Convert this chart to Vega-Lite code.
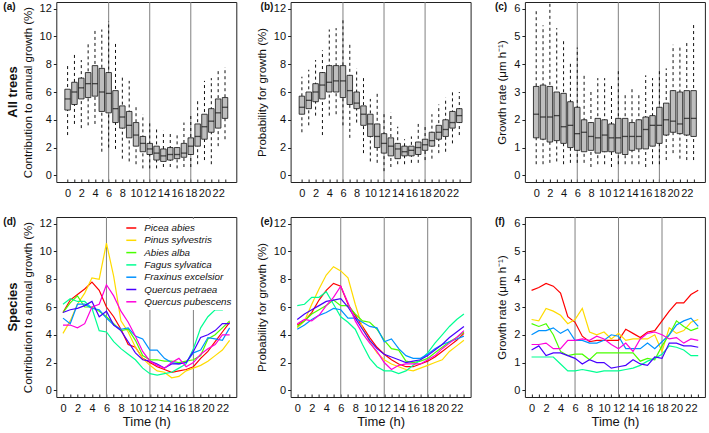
{
  "$schema": "https://vega.github.io/schema/vega-lite/v6.json",
  "padding": {"left": 1, "top": 1, "right": 2, "bottom": 0},
  "config": {
    "font": "Liberation Sans",
    "view": {"stroke": "#222", "strokeWidth": 1},
    "axis": {"grid": false, "domain": false, "labelFontSize": 11, "titleFontSize": 11.5, "titleFontWeight": "normal", "labelColor": "#111", "titleColor": "#111", "tickColor": "#222", "labelFont": "Liberation Sans", "titleFont": "Liberation Sans", "labelFlush": false, "labelOverlap": false},
    "axisX": {"tickSize": -3, "labelPadding": 8, "labelAngle": 0, "titleFontSize": 13, "titlePadding": 2},
    "axisY": {"tickSize": 3, "labelPadding": 2, "titlePadding": 6},
    "title": {"fontSize": 10, "fontWeight": "bold", "anchor": "start", "frame": "group", "offset": -10, "color": "#111", "font": "Liberation Sans"}
  },
  "datasets": {
    "box": [
      {"m":"a","h":0,"lo":2.9,"q1":4.7,"med":5.5,"q3":6.2,"hi":8.0},
      {"m":"a","h":1,"lo":3.7,"q1":5.1,"med":6.0,"q3":6.7,"hi":8.8},
      {"m":"a","h":2,"lo":3.4,"q1":5.5,"med":6.3,"q3":7.0,"hi":8.3},
      {"m":"a","h":3,"lo":3.6,"q1":5.6,"med":6.6,"q3":7.4,"hi":9.6},
      {"m":"a","h":4,"lo":3.7,"q1":5.7,"med":6.6,"q3":7.9,"hi":10.4},
      {"m":"a","h":5,"lo":1.7,"q1":4.6,"med":6.0,"q3":7.7,"hi":10.5},
      {"m":"a","h":6,"lo":2.0,"q1":4.5,"med":5.9,"q3":7.4,"hi":11.1},
      {"m":"a","h":7,"lo":1.9,"q1":3.8,"med":4.8,"q3":6.1,"hi":9.6},
      {"m":"a","h":8,"lo":1.2,"q1":3.4,"med":4.2,"q3":5.0,"hi":7.2},
      {"m":"a","h":9,"lo":1.0,"q1":2.7,"med":3.6,"q3":4.6,"hi":6.8},
      {"m":"a","h":10,"lo":0.8,"q1":2.1,"med":2.9,"q3":3.8,"hi":5.1},
      {"m":"a","h":11,"lo":0.5,"q1":1.7,"med":2.3,"q3":2.8,"hi":4.4},
      {"m":"a","h":12,"lo":0.5,"q1":1.5,"med":1.9,"q3":2.3,"hi":3.9},
      {"m":"a","h":13,"lo":0.5,"q1":1.1,"med":1.6,"q3":2.1,"hi":3.3},
      {"m":"a","h":14,"lo":0.6,"q1":1.0,"med":1.4,"q3":1.9,"hi":3.2},
      {"m":"a","h":15,"lo":0.6,"q1":1.1,"med":1.5,"q3":2.0,"hi":3.0},
      {"m":"a","h":16,"lo":0.5,"q1":1.2,"med":1.5,"q3":2.0,"hi":3.0},
      {"m":"a","h":17,"lo":0.6,"q1":1.3,"med":1.6,"q3":2.3,"hi":3.8},
      {"m":"a","h":18,"lo":0.6,"q1":1.5,"med":2.1,"q3":2.7,"hi":4.4},
      {"m":"a","h":19,"lo":0.8,"q1":2.1,"med":2.8,"q3":3.7,"hi":5.4},
      {"m":"a","h":20,"lo":1.1,"q1":2.6,"med":3.5,"q3":4.4,"hi":6.8},
      {"m":"a","h":21,"lo":0.8,"q1":3.1,"med":3.9,"q3":4.8,"hi":7.0},
      {"m":"a","h":22,"lo":2.1,"q1":3.4,"med":4.5,"q3":5.5,"hi":7.6},
      {"m":"a","h":23,"lo":2.6,"q1":4.1,"med":4.9,"q3":5.6,"hi":7.8},
      {"m":"b","h":0,"lo":3.1,"q1":4.4,"med":4.9,"q3":5.7,"hi":7.1},
      {"m":"b","h":1,"lo":3.6,"q1":4.8,"med":5.4,"q3":6.0,"hi":7.6},
      {"m":"b","h":2,"lo":4.3,"q1":5.3,"med":6.0,"q3":6.6,"hi":8.3},
      {"m":"b","h":3,"lo":2.9,"q1":5.5,"med":6.5,"q3":7.4,"hi":9.0},
      {"m":"b","h":4,"lo":4.3,"q1":6.0,"med":6.7,"q3":7.9,"hi":10.5},
      {"m":"b","h":5,"lo":4.4,"q1":6.0,"med":6.8,"q3":7.9,"hi":10.6},
      {"m":"b","h":6,"lo":3.6,"q1":5.6,"med":6.8,"q3":7.9,"hi":11.2},
      {"m":"b","h":7,"lo":2.7,"q1":5.1,"med":6.1,"q3":7.2,"hi":9.4},
      {"m":"b","h":8,"lo":3.8,"q1":4.8,"med":5.2,"q3":6.0,"hi":7.7},
      {"m":"b","h":9,"lo":1.6,"q1":3.6,"med":4.4,"q3":5.0,"hi":7.0},
      {"m":"b","h":10,"lo":1.0,"q1":2.8,"med":3.7,"q3":4.4,"hi":5.5},
      {"m":"b","h":11,"lo":0.9,"q1":2.0,"med":2.8,"q3":3.7,"hi":6.0},
      {"m":"b","h":12,"lo":0.3,"q1":1.6,"med":2.3,"q3":3.0,"hi":4.4},
      {"m":"b","h":13,"lo":0.6,"q1":1.4,"med":2.1,"q3":2.7,"hi":4.5},
      {"m":"b","h":14,"lo":0.8,"q1":1.2,"med":1.9,"q3":2.3,"hi":3.5},
      {"m":"b","h":15,"lo":0.8,"q1":1.4,"med":1.7,"q3":2.1,"hi":2.6},
      {"m":"b","h":16,"lo":0.9,"q1":1.4,"med":1.8,"q3":2.1,"hi":2.8},
      {"m":"b","h":17,"lo":0.9,"q1":1.5,"med":2.0,"q3":2.4,"hi":3.7},
      {"m":"b","h":18,"lo":1.1,"q1":1.8,"med":2.2,"q3":2.6,"hi":3.6},
      {"m":"b","h":19,"lo":1.2,"q1":2.1,"med":2.5,"q3":3.1,"hi":4.4},
      {"m":"b","h":20,"lo":1.6,"q1":2.6,"med":3.1,"q3":3.6,"hi":5.1},
      {"m":"b","h":21,"lo":1.7,"q1":2.8,"med":3.3,"q3":4.0,"hi":5.6},
      {"m":"b","h":22,"lo":2.3,"q1":3.4,"med":3.8,"q3":4.6,"hi":6.1},
      {"m":"b","h":23,"lo":2.9,"q1":3.8,"med":4.3,"q3":4.8,"hi":6.0},
      {"m":"c","h":0,"lo":0.4,"q1":1.35,"med":2.2,"q3":3.2,"hi":6.0},
      {"m":"c","h":1,"lo":0.4,"q1":1.3,"med":2.1,"q3":3.25,"hi":5.4},
      {"m":"c","h":2,"lo":0.45,"q1":1.2,"med":2.1,"q3":3.2,"hi":6.2},
      {"m":"c","h":3,"lo":0.5,"q1":1.25,"med":2.15,"q3":3.0,"hi":5.3},
      {"m":"c","h":4,"lo":0.4,"q1":1.15,"med":1.75,"q3":2.95,"hi":4.9},
      {"m":"c","h":5,"lo":0.45,"q1":1.0,"med":1.8,"q3":2.65,"hi":4.1},
      {"m":"c","h":6,"lo":0.45,"q1":0.9,"med":1.5,"q3":2.45,"hi":4.6},
      {"m":"c","h":7,"lo":0.45,"q1":0.85,"med":1.55,"q3":2.0,"hi":3.6},
      {"m":"c","h":8,"lo":0.3,"q1":0.9,"med":1.4,"q3":1.9,"hi":3.1},
      {"m":"c","h":9,"lo":0.4,"q1":0.8,"med":1.35,"q3":2.05,"hi":3.5},
      {"m":"c","h":10,"lo":0.4,"q1":0.85,"med":1.45,"q3":2.0,"hi":3.5},
      {"m":"c","h":11,"lo":0.3,"q1":0.85,"med":1.35,"q3":1.85,"hi":3.3},
      {"m":"c","h":12,"lo":0.4,"q1":0.8,"med":1.35,"q3":2.05,"hi":3.75},
      {"m":"c","h":13,"lo":0.4,"q1":0.75,"med":1.4,"q3":2.05,"hi":2.95},
      {"m":"c","h":14,"lo":0.4,"q1":0.9,"med":1.4,"q3":1.9,"hi":3.15},
      {"m":"c","h":15,"lo":0.4,"q1":0.95,"med":1.4,"q3":2.0,"hi":2.95},
      {"m":"c","h":16,"lo":0.3,"q1":0.95,"med":1.65,"q3":2.1,"hi":3.6},
      {"m":"c","h":17,"lo":0.4,"q1":1.05,"med":1.8,"q3":2.15,"hi":3.5},
      {"m":"c","h":18,"lo":0.4,"q1":1.15,"med":1.8,"q3":2.45,"hi":3.8},
      {"m":"c","h":19,"lo":0.55,"q1":1.45,"med":2.0,"q3":2.6,"hi":3.85},
      {"m":"c","h":20,"lo":0.8,"q1":1.55,"med":1.95,"q3":3.05,"hi":4.7},
      {"m":"c","h":21,"lo":0.6,"q1":1.5,"med":1.85,"q3":3.0,"hi":4.7},
      {"m":"c","h":22,"lo":0.55,"q1":1.45,"med":2.05,"q3":3.05,"hi":4.8},
      {"m":"c","h":23,"lo":0.55,"q1":1.4,"med":2.05,"q3":3.05,"hi":5.45}
    ],
    "sp": [
      {"s":"Picea abies","h":0,"c":5.6,"p":4.7,"r":3.6},
      {"s":"Picea abies","h":1,"c":6.5,"p":5.0,"r":3.7},
      {"s":"Picea abies","h":2,"c":6.9,"p":5.6,"r":3.85},
      {"s":"Picea abies","h":3,"c":7.3,"p":6.5,"r":3.75},
      {"s":"Picea abies","h":4,"c":7.8,"p":7.2,"r":3.5},
      {"s":"Picea abies","h":5,"c":7.2,"p":7.7,"r":2.65},
      {"s":"Picea abies","h":6,"c":6.0,"p":7.5,"r":2.45},
      {"s":"Picea abies","h":7,"c":5.3,"p":6.2,"r":1.95},
      {"s":"Picea abies","h":8,"c":4.4,"p":5.4,"r":1.75},
      {"s":"Picea abies","h":9,"c":3.3,"p":4.6,"r":1.8},
      {"s":"Picea abies","h":10,"c":3.1,"p":3.8,"r":1.8},
      {"s":"Picea abies","h":11,"c":2.3,"p":3.1,"r":1.8},
      {"s":"Picea abies","h":12,"c":2.0,"p":2.6,"r":1.8},
      {"s":"Picea abies","h":13,"c":1.7,"p":2.2,"r":2.2},
      {"s":"Picea abies","h":14,"c":1.5,"p":1.9,"r":2.05},
      {"s":"Picea abies","h":15,"c":1.3,"p":1.7,"r":1.9},
      {"s":"Picea abies","h":16,"c":1.4,"p":1.7,"r":2.1},
      {"s":"Picea abies","h":17,"c":1.5,"p":1.9,"r":2.15},
      {"s":"Picea abies","h":18,"c":1.7,"p":2.1,"r":2.5},
      {"s":"Picea abies","h":19,"c":2.3,"p":2.4,"r":2.85},
      {"s":"Picea abies","h":20,"c":2.8,"p":2.8,"r":3.15},
      {"s":"Picea abies","h":21,"c":3.5,"p":3.2,"r":3.15},
      {"s":"Picea abies","h":22,"c":4.2,"p":3.6,"r":3.45},
      {"s":"Picea abies","h":23,"c":4.9,"p":4.1,"r":3.6},
      {"s":"Pinus sylvestris","h":0,"c":4.1,"p":4.5,"r":2.55},
      {"s":"Pinus sylvestris","h":1,"c":5.0,"p":5.0,"r":2.5},
      {"s":"Pinus sylvestris","h":2,"c":6.2,"p":6.2,"r":2.95},
      {"s":"Pinus sylvestris","h":3,"c":7.0,"p":7.3,"r":2.85},
      {"s":"Pinus sylvestris","h":4,"c":8.1,"p":8.3,"r":2.7},
      {"s":"Pinus sylvestris","h":5,"c":8.0,"p":8.9,"r":2.4},
      {"s":"Pinus sylvestris","h":6,"c":10.6,"p":8.6,"r":2.55},
      {"s":"Pinus sylvestris","h":7,"c":8.2,"p":8.1,"r":2.95},
      {"s":"Pinus sylvestris","h":8,"c":5.0,"p":6.2,"r":2.1},
      {"s":"Pinus sylvestris","h":9,"c":4.2,"p":4.5,"r":2.0},
      {"s":"Pinus sylvestris","h":10,"c":3.1,"p":3.5,"r":2.1},
      {"s":"Pinus sylvestris","h":11,"c":2.3,"p":2.7,"r":1.85},
      {"s":"Pinus sylvestris","h":12,"c":1.8,"p":2.2,"r":2.05},
      {"s":"Pinus sylvestris","h":13,"c":1.4,"p":1.9,"r":1.8},
      {"s":"Pinus sylvestris","h":14,"c":1.3,"p":1.7,"r":1.85},
      {"s":"Pinus sylvestris","h":15,"c":0.9,"p":1.5,"r":1.85},
      {"s":"Pinus sylvestris","h":16,"c":1.0,"p":1.4,"r":1.85},
      {"s":"Pinus sylvestris","h":17,"c":1.4,"p":1.6,"r":2.0},
      {"s":"Pinus sylvestris","h":18,"c":1.6,"p":1.8,"r":1.4},
      {"s":"Pinus sylvestris","h":19,"c":1.8,"p":2.0,"r":2.25},
      {"s":"Pinus sylvestris","h":20,"c":2.1,"p":2.2,"r":2.05},
      {"s":"Pinus sylvestris","h":21,"c":2.5,"p":2.8,"r":2.15},
      {"s":"Pinus sylvestris","h":22,"c":2.9,"p":3.2,"r":2.45},
      {"s":"Pinus sylvestris","h":23,"c":3.6,"p":3.6,"r":2.55},
      {"s":"Abies alba","h":0,"c":5.6,"p":4.6,"r":2.4},
      {"s":"Abies alba","h":1,"c":6.3,"p":5.0,"r":2.3},
      {"s":"Abies alba","h":2,"c":6.8,"p":5.5,"r":2.4},
      {"s":"Abies alba","h":3,"c":6.0,"p":5.8,"r":2.0},
      {"s":"Abies alba","h":4,"c":6.0,"p":6.1,"r":1.4},
      {"s":"Abies alba","h":5,"c":5.7,"p":6.5,"r":1.25},
      {"s":"Abies alba","h":6,"c":5.3,"p":6.1,"r":1.3},
      {"s":"Abies alba","h":7,"c":4.8,"p":6.1,"r":1.3},
      {"s":"Abies alba","h":8,"c":4.3,"p":5.5,"r":1.1},
      {"s":"Abies alba","h":9,"c":4.4,"p":5.0,"r":1.35},
      {"s":"Abies alba","h":10,"c":3.6,"p":4.9,"r":1.35},
      {"s":"Abies alba","h":11,"c":2.5,"p":4.4,"r":1.35},
      {"s":"Abies alba","h":12,"c":2.2,"p":3.6,"r":1.35},
      {"s":"Abies alba","h":13,"c":2.2,"p":3.0,"r":1.35},
      {"s":"Abies alba","h":14,"c":2.1,"p":2.9,"r":1.35},
      {"s":"Abies alba","h":15,"c":2.1,"p":2.1,"r":1.05},
      {"s":"Abies alba","h":16,"c":2.0,"p":2.0,"r":1.15},
      {"s":"Abies alba","h":17,"c":2.1,"p":2.1,"r":1.1},
      {"s":"Abies alba","h":18,"c":2.2,"p":2.3,"r":1.6},
      {"s":"Abies alba","h":19,"c":2.5,"p":2.7,"r":2.0},
      {"s":"Abies alba","h":20,"c":3.7,"p":3.1,"r":2.5},
      {"s":"Abies alba","h":21,"c":4.0,"p":3.5,"r":2.3},
      {"s":"Abies alba","h":22,"c":4.5,"p":3.8,"r":2.15},
      {"s":"Abies alba","h":23,"c":5.0,"p":4.2,"r":2.25},
      {"s":"Fagus sylvatica","h":0,"c":6.2,"p":6.1,"r":1.2},
      {"s":"Fagus sylvatica","h":1,"c":6.6,"p":6.2,"r":1.2},
      {"s":"Fagus sylvatica","h":2,"c":6.4,"p":6.7,"r":1.2},
      {"s":"Fagus sylvatica","h":3,"c":6.4,"p":6.7,"r":1.2},
      {"s":"Fagus sylvatica","h":4,"c":5.9,"p":7.1,"r":0.95},
      {"s":"Fagus sylvatica","h":5,"c":4.3,"p":6.2,"r":0.7},
      {"s":"Fagus sylvatica","h":6,"c":4.2,"p":5.3,"r":0.7},
      {"s":"Fagus sylvatica","h":7,"c":3.5,"p":4.9,"r":0.75},
      {"s":"Fagus sylvatica","h":8,"c":3.0,"p":4.4,"r":0.7},
      {"s":"Fagus sylvatica","h":9,"c":2.6,"p":3.3,"r":0.65},
      {"s":"Fagus sylvatica","h":10,"c":2.2,"p":2.3,"r":0.7},
      {"s":"Fagus sylvatica","h":11,"c":1.6,"p":1.7,"r":0.7},
      {"s":"Fagus sylvatica","h":12,"c":1.2,"p":1.4,"r":0.7},
      {"s":"Fagus sylvatica","h":13,"c":1.1,"p":1.4,"r":0.75},
      {"s":"Fagus sylvatica","h":14,"c":1.2,"p":1.2,"r":0.8},
      {"s":"Fagus sylvatica","h":15,"c":1.3,"p":1.4,"r":0.9},
      {"s":"Fagus sylvatica","h":16,"c":1.6,"p":1.8,"r":1.05},
      {"s":"Fagus sylvatica","h":17,"c":1.9,"p":2.2,"r":1.15},
      {"s":"Fagus sylvatica","h":18,"c":3.0,"p":2.7,"r":1.3},
      {"s":"Fagus sylvatica","h":19,"c":4.5,"p":3.4,"r":1.6},
      {"s":"Fagus sylvatica","h":20,"c":5.3,"p":4.0,"r":1.55},
      {"s":"Fagus sylvatica","h":21,"c":5.8,"p":4.6,"r":1.45},
      {"s":"Fagus sylvatica","h":22,"c":5.8,"p":5.1,"r":1.25},
      {"s":"Fagus sylvatica","h":23,"c":6.3,"p":5.5,"r":1.25},
      {"s":"Fraxinus excelsior","h":0,"c":5.2,"p":4.4,"r":2.0},
      {"s":"Fraxinus excelsior","h":1,"c":4.8,"p":4.7,"r":2.15},
      {"s":"Fraxinus excelsior","h":2,"c":6.2,"p":5.1,"r":2.15},
      {"s":"Fraxinus excelsior","h":3,"c":6.2,"p":5.4,"r":2.25},
      {"s":"Fraxinus excelsior","h":4,"c":5.9,"p":5.6,"r":2.05},
      {"s":"Fraxinus excelsior","h":5,"c":5.8,"p":5.9,"r":2.2},
      {"s":"Fraxinus excelsior","h":6,"c":5.2,"p":5.8,"r":1.8},
      {"s":"Fraxinus excelsior","h":7,"c":4.7,"p":5.2,"r":1.8},
      {"s":"Fraxinus excelsior","h":8,"c":4.4,"p":5.2,"r":1.7},
      {"s":"Fraxinus excelsior","h":9,"c":4.5,"p":4.9,"r":1.7},
      {"s":"Fraxinus excelsior","h":10,"c":3.9,"p":4.6,"r":1.8},
      {"s":"Fraxinus excelsior","h":11,"c":3.7,"p":4.5,"r":2.0},
      {"s":"Fraxinus excelsior","h":12,"c":2.9,"p":3.5,"r":1.95},
      {"s":"Fraxinus excelsior","h":13,"c":2.9,"p":3.7,"r":1.5},
      {"s":"Fraxinus excelsior","h":14,"c":2.3,"p":3.0,"r":1.5},
      {"s":"Fraxinus excelsior","h":15,"c":2.0,"p":2.5,"r":1.5},
      {"s":"Fraxinus excelsior","h":16,"c":1.9,"p":2.3,"r":1.7},
      {"s":"Fraxinus excelsior","h":17,"c":2.0,"p":2.3,"r":1.5},
      {"s":"Fraxinus excelsior","h":18,"c":2.7,"p":2.6,"r":1.75},
      {"s":"Fraxinus excelsior","h":19,"c":2.9,"p":3.0,"r":2.0},
      {"s":"Fraxinus excelsior","h":20,"c":3.8,"p":3.3,"r":2.35},
      {"s":"Fraxinus excelsior","h":21,"c":3.7,"p":3.5,"r":2.5},
      {"s":"Fraxinus excelsior","h":22,"c":3.6,"p":3.7,"r":2.6},
      {"s":"Fraxinus excelsior","h":23,"c":4.5,"p":3.9,"r":2.3},
      {"s":"Quercus petraea","h":0,"c":5.6,"p":5.1,"r":1.45},
      {"s":"Quercus petraea","h":1,"c":5.8,"p":5.5,"r":1.6},
      {"s":"Quercus petraea","h":2,"c":5.9,"p":5.8,"r":1.25},
      {"s":"Quercus petraea","h":3,"c":6.1,"p":6.1,"r":1.35},
      {"s":"Quercus petraea","h":4,"c":6.4,"p":6.4,"r":1.35},
      {"s":"Quercus petraea","h":5,"c":5.3,"p":6.5,"r":1.25},
      {"s":"Quercus petraea","h":6,"c":5.7,"p":6.6,"r":1.15},
      {"s":"Quercus petraea","h":7,"c":4.7,"p":6.0,"r":0.95},
      {"s":"Quercus petraea","h":8,"c":4.3,"p":5.2,"r":1.1},
      {"s":"Quercus petraea","h":9,"c":3.5,"p":4.4,"r":1.0},
      {"s":"Quercus petraea","h":10,"c":2.7,"p":3.6,"r":1.0},
      {"s":"Quercus petraea","h":11,"c":2.2,"p":3.0,"r":0.8},
      {"s":"Quercus petraea","h":12,"c":2.1,"p":2.6,"r":0.85},
      {"s":"Quercus petraea","h":13,"c":1.9,"p":2.4,"r":0.9},
      {"s":"Quercus petraea","h":14,"c":1.6,"p":2.2,"r":1.1},
      {"s":"Quercus petraea","h":15,"c":1.9,"p":2.0,"r":0.95},
      {"s":"Quercus petraea","h":16,"c":1.9,"p":2.1,"r":0.9},
      {"s":"Quercus petraea","h":17,"c":2.0,"p":2.2,"r":1.2},
      {"s":"Quercus petraea","h":18,"c":2.8,"p":2.5,"r":1.15},
      {"s":"Quercus petraea","h":19,"c":3.8,"p":2.9,"r":1.7},
      {"s":"Quercus petraea","h":20,"c":4.0,"p":3.3,"r":1.7},
      {"s":"Quercus petraea","h":21,"c":4.3,"p":3.8,"r":1.6},
      {"s":"Quercus petraea","h":22,"c":4.8,"p":4.2,"r":1.6},
      {"s":"Quercus petraea","h":23,"c":4.8,"p":4.6,"r":1.55},
      {"s":"Quercus pubescens","h":0,"c":4.7,"p":4.8,"r":1.65},
      {"s":"Quercus pubescens","h":1,"c":4.7,"p":5.1,"r":1.65},
      {"s":"Quercus pubescens","h":2,"c":4.5,"p":5.0,"r":1.7},
      {"s":"Quercus pubescens","h":3,"c":4.8,"p":5.4,"r":1.5},
      {"s":"Quercus pubescens","h":4,"c":6.0,"p":6.1,"r":1.5},
      {"s":"Quercus pubescens","h":5,"c":6.2,"p":6.7,"r":1.8},
      {"s":"Quercus pubescens","h":6,"c":7.6,"p":7.5,"r":1.8},
      {"s":"Quercus pubescens","h":7,"c":6.8,"p":6.3,"r":1.85},
      {"s":"Quercus pubescens","h":8,"c":5.7,"p":5.0,"r":1.8},
      {"s":"Quercus pubescens","h":9,"c":4.9,"p":4.1,"r":1.95},
      {"s":"Quercus pubescens","h":10,"c":3.9,"p":3.4,"r":1.85},
      {"s":"Quercus pubescens","h":11,"c":2.8,"p":2.8,"r":1.65},
      {"s":"Quercus pubescens","h":12,"c":2.1,"p":2.0,"r":1.5},
      {"s":"Quercus pubescens","h":13,"c":1.8,"p":1.5,"r":1.7},
      {"s":"Quercus pubescens","h":14,"c":1.6,"p":1.8,"r":1.4},
      {"s":"Quercus pubescens","h":15,"c":2.0,"p":1.9,"r":1.85},
      {"s":"Quercus pubescens","h":16,"c":2.3,"p":1.9,"r":2.05},
      {"s":"Quercus pubescens","h":17,"c":1.7,"p":1.9,"r":2.1},
      {"s":"Quercus pubescens","h":18,"c":2.0,"p":2.2,"r":2.0},
      {"s":"Quercus pubescens","h":19,"c":2.6,"p":2.5,"r":1.85},
      {"s":"Quercus pubescens","h":20,"c":3.0,"p":3.0,"r":1.9},
      {"s":"Quercus pubescens","h":21,"c":3.3,"p":3.4,"r":1.7},
      {"s":"Quercus pubescens","h":22,"c":4.0,"p":3.8,"r":1.85},
      {"s":"Quercus pubescens","h":23,"c":4.0,"p":4.3,"r":1.8}
    ]
  },
  "resolve": {"scale": {"color": "independent"}, "legend": {"color": "independent"}},
  "spacing": 17,
  "vconcat": [
    {
      "hconcat": [
        {"width": 1, "height": 180, "view": {"stroke": null}, "data": {"values": [{"t": "All trees"}]}, "mark": {"type": "text", "angle": 270, "fontSize": 13, "fontWeight": "bold", "font": "Liberation Sans", "dy": 11, "align": "center", "baseline": "middle", "color": "#111"}, "encoding": {"text": {"field": "t"}}},
        {
          "width": 180, "height": 180,
          "title": {"text": "(a)", "dx": -53},
          "encoding": {"x": {"field": "h", "type": "quantitative", "scale": {"domain": [-0.92, 23.92], "nice": false, "zero": false}, "axis": {"values": [0,1,2,3,4,5,6,7,8,9,10,11,12,13,14,15,16,17,18,19,20,21,22,23], "labelExpr": "datum.value % 2 === 0 ? datum.label : ''", "title": null}}},
          "layer": [
            {"data": {"values": [{"h": 6}, {"h": 12}, {"h": 18}]}, "mark": {"type": "rule", "color": "#808080", "strokeWidth": 1}, "encoding": {}},
            {"data": {"name": "box"}, "transform": [{"filter": "datum.m === 'a'"}], "mark": {"type": "rule", "strokeDash": [3, 3], "color": "#111", "strokeWidth": 1}, "encoding": {"y": {"field": "lo", "type": "quantitative", "title": "Contribution to annual growth (%)", "scale": {"domain": [-0.48, 12.48], "nice": false, "zero": false}, "axis": {"values": [0,2,4,6,8,10,12]}}, "y2": {"field": "hi"}}},
            {"data": {"name": "box"}, "transform": [{"filter": "datum.m === 'a'"}], "mark": {"type": "bar", "size": 5.5, "fill": "#BEBEBE", "stroke": "#111", "strokeWidth": 0.8}, "encoding": {"y": {"field": "q1", "type": "quantitative", "title": "Contribution to annual growth (%)", "scale": {"domain": [-0.48, 12.48], "nice": false, "zero": false}, "axis": {"values": [0,2,4,6,8,10,12]}}, "y2": {"field": "q3"}}},
            {"data": {"name": "box"}, "transform": [{"filter": "datum.m === 'a'"}], "mark": {"type": "tick", "orient": "horizontal", "size": 5.5, "thickness": 1.3, "color": "#111"}, "encoding": {"y": {"field": "med", "type": "quantitative", "title": "Contribution to annual growth (%)", "scale": {"domain": [-0.48, 12.48], "nice": false, "zero": false}, "axis": {"values": [0,2,4,6,8,10,12]}}}}
          ]
        },
        {
          "width": 180, "height": 180,
          "title": {"text": "(b)", "dx": -30},
          "encoding": {"x": {"field": "h", "type": "quantitative", "scale": {"domain": [-0.92, 23.92], "nice": false, "zero": false}, "axis": {"values": [0,1,2,3,4,5,6,7,8,9,10,11,12,13,14,15,16,17,18,19,20,21,22,23], "labelExpr": "datum.value % 2 === 0 ? datum.label : ''", "title": null}}},
          "layer": [
            {"data": {"values": [{"h": 6}, {"h": 12}, {"h": 18}]}, "mark": {"type": "rule", "color": "#808080", "strokeWidth": 1}, "encoding": {}},
            {"data": {"name": "box"}, "transform": [{"filter": "datum.m === 'b'"}], "mark": {"type": "rule", "strokeDash": [3, 3], "color": "#111", "strokeWidth": 1}, "encoding": {"y": {"field": "lo", "type": "quantitative", "title": "Probability for growth (%)", "scale": {"domain": [-0.48, 12.48], "nice": false, "zero": false}, "axis": {"values": [0,2,4,6,8,10,12]}}, "y2": {"field": "hi"}}},
            {"data": {"name": "box"}, "transform": [{"filter": "datum.m === 'b'"}], "mark": {"type": "bar", "size": 5.5, "fill": "#BEBEBE", "stroke": "#111", "strokeWidth": 0.8}, "encoding": {"y": {"field": "q1", "type": "quantitative", "title": "Probability for growth (%)", "scale": {"domain": [-0.48, 12.48], "nice": false, "zero": false}, "axis": {"values": [0,2,4,6,8,10,12]}}, "y2": {"field": "q3"}}},
            {"data": {"name": "box"}, "transform": [{"filter": "datum.m === 'b'"}], "mark": {"type": "tick", "orient": "horizontal", "size": 5.5, "thickness": 1.3, "color": "#111"}, "encoding": {"y": {"field": "med", "type": "quantitative", "title": "Probability for growth (%)", "scale": {"domain": [-0.48, 12.48], "nice": false, "zero": false}, "axis": {"values": [0,2,4,6,8,10,12]}}}}
          ]
        },
        {
          "width": 180, "height": 180,
          "title": {"text": "(c)", "dx": -30},
          "encoding": {"x": {"field": "h", "type": "quantitative", "scale": {"domain": [-0.92, 23.92], "nice": false, "zero": false}, "axis": {"values": [0,1,2,3,4,5,6,7,8,9,10,11,12,13,14,15,16,17,18,19,20,21,22,23], "labelExpr": "datum.value % 2 === 0 ? datum.label : ''", "title": null}}},
          "layer": [
            {"data": {"values": [{"h": 6}, {"h": 12}, {"h": 18}]}, "mark": {"type": "rule", "color": "#808080", "strokeWidth": 1}, "encoding": {}},
            {"data": {"name": "box"}, "transform": [{"filter": "datum.m === 'c'"}], "mark": {"type": "rule", "strokeDash": [3, 3], "color": "#111", "strokeWidth": 1}, "encoding": {"y": {"field": "lo", "type": "quantitative", "title": "Growth rate (μm h⁻¹)", "scale": {"domain": [-0.24, 6.24], "nice": false, "zero": false}, "axis": {"values": [0,1,2,3,4,5,6]}}, "y2": {"field": "hi"}}},
            {"data": {"name": "box"}, "transform": [{"filter": "datum.m === 'c'"}], "mark": {"type": "bar", "size": 5.5, "fill": "#BEBEBE", "stroke": "#111", "strokeWidth": 0.8}, "encoding": {"y": {"field": "q1", "type": "quantitative", "title": "Growth rate (μm h⁻¹)", "scale": {"domain": [-0.24, 6.24], "nice": false, "zero": false}, "axis": {"values": [0,1,2,3,4,5,6]}}, "y2": {"field": "q3"}}},
            {"data": {"name": "box"}, "transform": [{"filter": "datum.m === 'c'"}], "mark": {"type": "tick", "orient": "horizontal", "size": 5.5, "thickness": 1.3, "color": "#111"}, "encoding": {"y": {"field": "med", "type": "quantitative", "title": "Growth rate (μm h⁻¹)", "scale": {"domain": [-0.24, 6.24], "nice": false, "zero": false}, "axis": {"values": [0,1,2,3,4,5,6]}}}}
          ]
        }
      ],
      "bounds": "flush",
      "spacing": 54.3,
      "resolve": {"scale": {"color": "independent"}, "legend": {"color": "independent"}}
    },
    {
      "hconcat": [
        {"width": 1, "height": 180, "view": {"stroke": null}, "data": {"values": [{"t": "Species"}]}, "mark": {"type": "text", "angle": 270, "fontSize": 13, "fontWeight": "bold", "font": "Liberation Sans", "dy": 11, "align": "center", "baseline": "middle", "color": "#111"}, "encoding": {"text": {"field": "t"}}},
        {
          "width": 180, "height": 180,
          "title": {"text": "(d)", "dx": -53},
          "encoding": {"x": {"field": "h", "type": "quantitative", "scale": {"domain": [-0.92, 23.92], "nice": false, "zero": false}, "axis": {"values": [0,1,2,3,4,5,6,7,8,9,10,11,12,13,14,15,16,17,18,19,20,21,22,23], "labelExpr": "datum.value % 2 === 0 ? datum.label : ''", "title": "Time (h)"}}},
          "layer": [
            {"data": {"values": [{"h": 6}, {"h": 12}, {"h": 18}]}, "mark": {"type": "rule", "color": "#808080", "strokeWidth": 1}, "encoding": {}},
            {"data": {"name": "sp"}, "mark": {"type": "line", "strokeWidth": 1.2}, "encoding": {
              "y": {"field": "c", "type": "quantitative", "title": "Contribution to annual growth (%)", "scale": {"domain": [-0.48, 12.48], "nice": false, "zero": false}, "axis": {"values": [0,2,4,6,8,10,12]}},
              "color": {"field": "s", "type": "nominal", "scale": {"domain": ["Picea abies","Pinus sylvestris","Abies alba","Fagus sylvatica","Fraxinus excelsior","Quercus petraea","Quercus pubescens"], "range": ["#FF0000","#FFDB00","#49FF00","#00FF92","#0092FF","#4900FF","#FF00DB"]},
                "legend": {"title": null, "orient": "none", "legendX": 66, "legendY": 2, "fillColor": "white", "padding": 3, "symbolType": "stroke", "symbolSize": 100, "symbolStrokeWidth": 1.5, "labelFontSize": 9.8, "labelFontStyle": "italic", "labelFont": "Liberation Sans", "labelColor": "#111", "rowPadding": 1.3, "labelOffset": 7}}
            }}
          ]
        },
        {
          "width": 180, "height": 180,
          "title": {"text": "(e)", "dx": -30},
          "encoding": {"x": {"field": "h", "type": "quantitative", "scale": {"domain": [-0.92, 23.92], "nice": false, "zero": false}, "axis": {"values": [0,1,2,3,4,5,6,7,8,9,10,11,12,13,14,15,16,17,18,19,20,21,22,23], "labelExpr": "datum.value % 2 === 0 ? datum.label : ''", "title": "Time (h)"}}},
          "layer": [
            {"data": {"values": [{"h": 6}, {"h": 12}, {"h": 18}]}, "mark": {"type": "rule", "color": "#808080", "strokeWidth": 1}, "encoding": {}},
            {"data": {"name": "sp"}, "mark": {"type": "line", "strokeWidth": 1.2}, "encoding": {
              "y": {"field": "p", "type": "quantitative", "title": "Probability for growth (%)", "scale": {"domain": [-0.48, 12.48], "nice": false, "zero": false}, "axis": {"values": [0,2,4,6,8,10,12]}},
              "color": {"field": "s", "type": "nominal", "scale": {"domain": ["Picea abies","Pinus sylvestris","Abies alba","Fagus sylvatica","Fraxinus excelsior","Quercus petraea","Quercus pubescens"], "range": ["#FF0000","#FFDB00","#49FF00","#00FF92","#0092FF","#4900FF","#FF00DB"]}, "legend": null}
            }}
          ]
        },
        {
          "width": 180, "height": 180,
          "title": {"text": "(f)", "dx": -30},
          "encoding": {"x": {"field": "h", "type": "quantitative", "scale": {"domain": [-0.92, 23.92], "nice": false, "zero": false}, "axis": {"values": [0,1,2,3,4,5,6,7,8,9,10,11,12,13,14,15,16,17,18,19,20,21,22,23], "labelExpr": "datum.value % 2 === 0 ? datum.label : ''", "title": "Time (h)"}}},
          "layer": [
            {"data": {"values": [{"h": 6}, {"h": 12}, {"h": 18}]}, "mark": {"type": "rule", "color": "#808080", "strokeWidth": 1}, "encoding": {}},
            {"data": {"name": "sp"}, "mark": {"type": "line", "strokeWidth": 1.2}, "encoding": {
              "y": {"field": "r", "type": "quantitative", "title": "Growth rate (μm h⁻¹)", "scale": {"domain": [-0.24, 6.24], "nice": false, "zero": false}, "axis": {"values": [0,1,2,3,4,5,6]}},
              "color": {"field": "s", "type": "nominal", "scale": {"domain": ["Picea abies","Pinus sylvestris","Abies alba","Fagus sylvatica","Fraxinus excelsior","Quercus petraea","Quercus pubescens"], "range": ["#FF0000","#FFDB00","#49FF00","#00FF92","#0092FF","#4900FF","#FF00DB"]}, "legend": null}
            }}
          ]
        }
      ],
      "bounds": "flush",
      "spacing": 54.3,
      "resolve": {"scale": {"color": "independent"}, "legend": {"color": "independent"}}
    }
  ]
}
